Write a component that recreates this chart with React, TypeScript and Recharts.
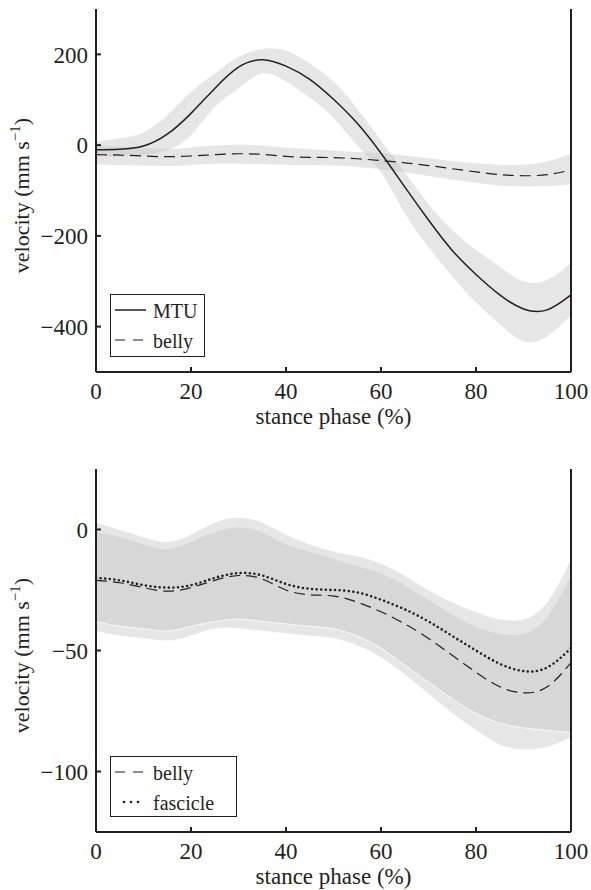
import React from 'react';
import { ComposedChart, Line, Area, XAxis, YAxis, Legend } from 'recharts';

// stance phase (%) sampled every 5 %
const phase = [0, 5, 10, 15, 20, 25, 30, 35, 40, 45, 50, 55, 60, 65, 70, 75, 80, 85, 90, 95, 100];

// MTU velocity (mm/s) with its shaded band
const mtuMean = [-10, -9, -2, 24, 70, 125, 172, 188, 174, 145, 101, 48, -18, -92, -165, -232, -285, -330, -361, -363, -330];
const mtuUpper = [7, 15, 28, 66, 117, 158, 194, 212, 208, 180, 140, 80, 10, -60, -130, -187, -231, -268, -300, -297, -260];
const mtuLower = [-25, -25, -22, -11, 22, 84, 125, 158, 140, 105, 60, 0, -60, -150, -225, -289, -347, -395, -432, -421, -375];

// belly velocity (mm/s)
const bellyMean = [-21, -22, -24, -25.5, -24, -21, -19, -20.5, -25, -27, -27.5, -30, -34, -39, -45, -52, -59, -65, -67.5, -65, -55];
const bellyUpper = [-1, -3, -6, -8, -5, -1, 1, -1, -6, -9, -12, -15, -18, -23, -29, -35, -40, -43, -43, -36, -19];
const bellyLower = [-42, -44, -45, -46, -44, -41, -41, -42, -43, -44, -45, -48, -53, -60, -68, -76, -83, -89, -91, -90, -86];

// fascicle velocity (mm/s)
const fascicleMean = [-20, -21, -23, -24, -23, -20, -18, -19, -22.5, -24.5, -25, -26, -29, -33, -38, -44, -50, -55.5, -58.5, -57, -49];
const fascicleUpper = [3, 0, -3, -5, -2, 3, 5, 3, -2, -6, -9, -11, -14, -19, -25, -30, -34, -37, -37, -30, -12];
const fascicleLower = [-38, -40, -41, -42, -40, -38, -37, -38, -39, -40, -41, -44, -49, -56, -63, -70, -76, -80, -82, -83, -84];

const xTicks = [0, 20, 40, 60, 80, 100];
const topTicks = [-400, -200, 0, 200];
const bottomTicks = [-100, -50, 0];

const data = phase.map((p, i) => ({
  phase: p,
  mtu: mtuMean[i],
  mtuBand: [mtuLower[i], mtuUpper[i]],
  belly: bellyMean[i],
  bellyBand: [bellyLower[i], bellyUpper[i]],
  fascicle: fascicleMean[i],
  fascicleBand: [fascicleLower[i], fascicleUpper[i]],
}));

const INK = '#231f20';
const FONT = '"Liberation Serif", "Times New Roman", serif';
const fmt = (v: number) => (v < 0 ? '\u2212' + Math.abs(v) : String(v));

const tickStyle = { fill: INK, fontSize: 23, fontFamily: FONT };

const XLabel = (props: any) => {
  const vb = props.viewBox;
  return (
    <text x={vb.x + vb.width / 2} y={vb.y + 52} textAnchor="middle" fill={INK} fontSize={23} fontFamily={FONT}>
      stance phase (%)
    </text>
  );
};

const YLabel = (props: any) => {
  const vb = props.viewBox;
  const cx = 29;
  const cy = vb.y + vb.height / 2 + 5;
  return (
    <text transform={`translate(${cx},${cy}) rotate(-90)`} textAnchor="middle" fill={INK} fontSize={22} fontFamily={FONT}>
      velocity (mm s
      <tspan dy={-9} fontSize={15}>{'\u22121'}</tspan>
      <tspan dy={9}>)</tspan>
    </text>
  );
};

const LegendBox = ({ width, height, items }: { width: number; height: number; items: { label: string; kind: string }[] }) => (
  <svg width={width} height={height} style={{ display: 'block' }}>
    <rect x={0.5} y={0.5} width={width - 1} height={height - 1} fill="#fff" stroke={INK} strokeWidth={1} />
    {items.map((it, i) => {
      const y = 16 + i * 30;
      return (
        <g key={it.label}>
          {it.kind === 'solid' && <line x1={5} x2={36} y1={y} y2={y} stroke={INK} strokeWidth={1.5} />}
          {it.kind === 'dashed' && <line x1={5} x2={35} y1={y} y2={y} stroke={INK} strokeWidth={1.2} strokeDasharray="10 8" />}
          {it.kind === 'dotted' &&
            [124, 131, 138].map((x) => <circle key={x} cx={x - 110} cy={y} r={1.3} fill={INK} />)}
          <text x={43} y={y + 8} fill={INK} fontSize={20} fontFamily={FONT}>
            {it.label}
          </text>
        </g>
      );
    })}
  </svg>
);

const Frame = ({ domain, ticks }: { domain: number[]; ticks: number[] }) => [
  <XAxis
    key="xb"
    dataKey="phase"
    type="number"
    domain={[0, 100]}
    ticks={xTicks}
    axisLine={{ stroke: INK, strokeWidth: 2 }}
    tickLine={{ stroke: INK, strokeWidth: 2 }}
    tickSize={-5}
    tickMargin={16}
    tick={tickStyle}
    height={58}
    label={{ content: XLabel }}
  />,
  <XAxis
    key="xt"
    xAxisId="top"
    orientation="top"
    dataKey="phase"
    type="number"
    domain={[0, 100]}
    ticks={xTicks}
    axisLine={{ stroke: INK, strokeWidth: 2 }}
    tickLine={{ stroke: INK, strokeWidth: 2 }}
    tickSize={-5}
    tick={false}
    height={0}
  />,
  <YAxis
    key="yl"
    type="number"
    domain={domain}
    ticks={ticks}
    allowDataOverflow
    axisLine={{ stroke: INK, strokeWidth: 2 }}
    tickLine={{ stroke: INK, strokeWidth: 2 }}
    tickSize={-5}
    tickMargin={13}
    tick={tickStyle}
    tickFormatter={fmt}
    width={96}
    label={{ content: YLabel }}
  />,
  <YAxis
    key="yr"
    yAxisId="right"
    orientation="right"
    type="number"
    domain={domain}
    ticks={ticks}
    allowDataOverflow
    axisLine={{ stroke: INK, strokeWidth: 2 }}
    tickLine={{ stroke: INK, strokeWidth: 2 }}
    tickSize={-5}
    tick={false}
    width={1}
  />,
];

const bandProps = { type: 'natural' as const, fill: '#c4c4c4', fillOpacity: 0.42, isAnimationActive: false, activeDot: false };

export default function App() {
  return (
    <div style={{ position: 'absolute', left: 0, top: 0, width: 591, height: 890, background: '#fff' }}>
      <div style={{ position: 'absolute', left: 0, top: 0 }}>
        <ComposedChart width={591} height={430} data={data} margin={{ top: 9, right: 19, bottom: 0, left: 0 }}>
          {Frame({ domain: [-500, 300], ticks: topTicks })}
          <Area dataKey="mtuBand" {...bandProps} stroke="none" />
          <Area dataKey="bellyBand" {...bandProps} stroke="none" />
          <Line dataKey="mtu" type="natural" stroke={INK} strokeWidth={1.5} dot={false} isAnimationActive={false} />
          <Line dataKey="belly" type="natural" stroke={INK} strokeWidth={1.2} strokeDasharray="11 6" dot={false} isAnimationActive={false} />
          <Legend
            layout="horizontal"
            verticalAlign="middle"
            align="center"
            wrapperStyle={{ left: 110, top: 294, width: 95, height: 63 }}
            content={() => (
              <LegendBox width={95} height={63} items={[{ label: 'MTU', kind: 'solid' }, { label: 'belly', kind: 'dashed' }]} />
            )}
          />
        </ComposedChart>
      </div>
      <div style={{ position: 'absolute', left: 0, top: 460 }}>
        <ComposedChart width={591} height={430} data={data} margin={{ top: 9, right: 19, bottom: 0, left: 0 }}>
          {Frame({ domain: [-125, 25], ticks: bottomTicks })}
          <Area dataKey="bellyBand" {...bandProps} stroke="#ffffff" strokeWidth={1} strokeOpacity={0.8} />
          <Area dataKey="fascicleBand" {...bandProps} stroke="#ffffff" strokeWidth={1} strokeOpacity={0.8} />
          <Line dataKey="belly" type="natural" stroke={INK} strokeWidth={1.2} strokeDasharray="11 6" dot={false} isAnimationActive={false} />
          <Line
            dataKey="fascicle"
            type="natural"
            stroke={INK}
            strokeWidth={2.6}
            strokeDasharray="0 4.6"
            strokeLinecap="round"
            dot={false}
            isAnimationActive={false}
          />
          <Legend
            layout="horizontal"
            verticalAlign="middle"
            align="center"
            wrapperStyle={{ left: 110, top: 296, width: 127, height: 61 }}
            content={() => (
              <LegendBox width={127} height={61} items={[{ label: 'belly', kind: 'dashed' }, { label: 'fascicle', kind: 'dotted' }]} />
            )}
          />
        </ComposedChart>
      </div>
    </div>
  );
}
